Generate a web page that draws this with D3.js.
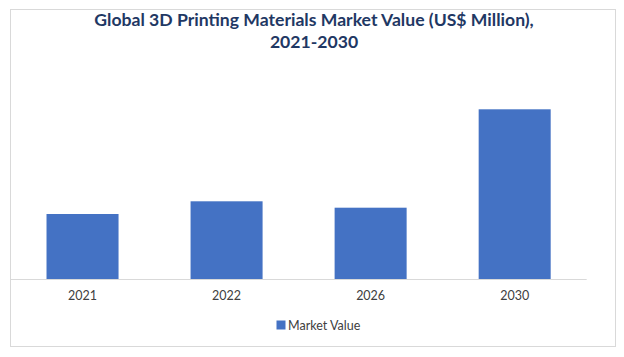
<!DOCTYPE html>
<html><head><meta charset="utf-8">
<script src="https://cdn.jsdelivr.net/npm/d3@7"></script>
<style>html,body{margin:0;padding:0;background:#fff;}</style>
</head><body>
<script>
const categories = ["2021", "2022", "2026", "2030"];
const values = [655, 782, 718, 1702];
const seriesName = "Market Value";
const titleLines = ["Global 3D Printing Materials Market Value (US$ Million),", "2021-2030"];

const W = 624, H = 357;
const svg = d3.select("body").append("svg").attr("width", W).attr("height", H);
svg.append("rect").attr("width", W).attr("height", H).attr("fill", "#fff");
svg.append("rect").attr("x", 10.5).attr("y", 9.5).attr("width", 605).attr("height", 337)
  .attr("fill", "none").attr("stroke", "#d9d9d9").attr("stroke-width", 1);

const x = d3.scaleBand().domain(categories).range([10.5, 586.7]).paddingInner(0.5).paddingOuter(0.25);
const y = d3.scaleLinear().domain([0, 2000]).range([279.5, 79.5]);

svg.selectAll("rect.bar").data(categories).enter().append("rect").attr("class", "bar")
  .attr("x", d => x(d)).attr("width", x.bandwidth())
  .attr("y", (d, i) => y(values[i])).attr("height", (d, i) => y(0) - y(values[i]))
  .attr("fill", "#4472c4");

const xAxis = svg.append("g").attr("transform", "translate(0,279.5)")
  .call(d3.axisBottom(x).tickSize(0).tickPadding(12));
xAxis.select(".domain").attr("stroke", "#d9d9d9").attr("d", "M10.5,0H586.7");
xAxis.selectAll("text").attr("fill", "#404040").attr("font-family", "Lato, 'Open Sans', sans-serif").attr("font-size", "12.5px");

const title = svg.append("g");
titleLines.forEach((t, i) => {
  title.append("text").attr("x", 314).attr("y", 26 + i * 22).attr("text-anchor", "middle")
    .attr("font-family", "Lato, 'Open Sans', sans-serif").attr("font-weight", "bold").attr("font-size", "17.6px")
    .attr("fill", "#1f3864").text(t);
});

const leg = svg.append("g");
leg.append("rect").attr("x", 276.5).attr("y", 320.5).attr("width", 9).attr("height", 9).attr("fill", "#4472c4");
leg.append("text").attr("x", 288).attr("y", 330).attr("font-family", "Lato, 'Open Sans', sans-serif")
  .attr("font-size", "12.5px").attr("fill", "#404040").text(seriesName);
</script>
</body></html>
